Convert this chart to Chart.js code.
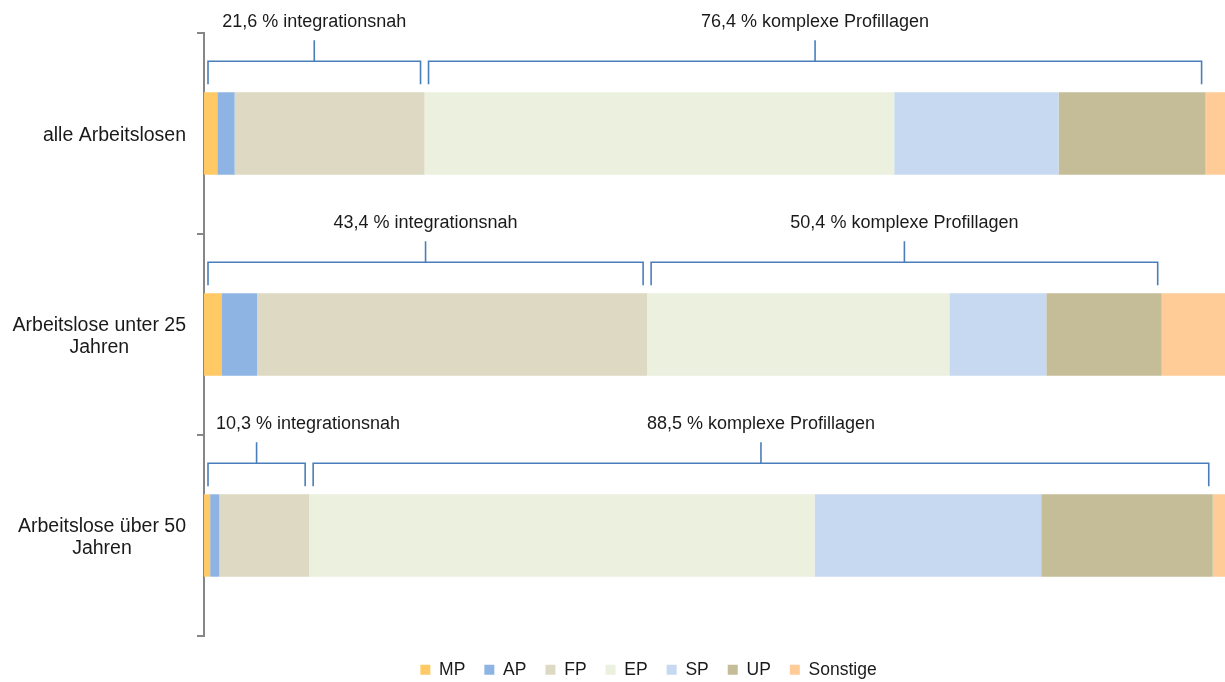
<!DOCTYPE html>
<html>
<head>
<meta charset="utf-8">
<script src="https://cdn.jsdelivr.net/npm/chart.js@4/dist/chart.umd.min.js"></script>
<style>
  html, body { margin: 0; padding: 0; background: #fff; }
  #wrap { width: 1225px; height: 682px; position: relative; }
</style>
</head>
<body>
<div id="wrap"><canvas id="profileChart"></canvas></div>
<script>
// categories (multi-line labels)
const categories = [
  ['alle Arbeitslosen'],
  ['Arbeitslose unter 25', 'Jahren'],
  ['Arbeitslose über 50', 'Jahren']
];

// shares in % per profile, one value per category
const MP = [1.3, 1.7, 0.6];
const AP = [1.7, 3.5, 0.9];
const FP = [18.6, 38.2, 8.8];
const EP = [46.0, 29.6, 49.5];
const SP = [16.1, 9.5, 22.2];
const UP = [14.4, 11.3, 16.8];
const Sonstige = [1.9, 6.2, 1.2];

// bracket annotations
const integrationsnahShare = [21.6, 43.4, 10.3];
const komplexShare = [76.4, 50.4, 88.5];

const seriesNames = ['MP', 'AP', 'FP', 'EP', 'SP', 'UP', 'Sonstige'];
const seriesData = [MP, AP, FP, EP, SP, UP, Sonstige];
const seriesColors = ['#FFCA66', '#8EB4E3', '#DDD9C3', '#EBF1DE', '#C6D9F1', '#C4BD97', '#FFCB97'];

const fmt = v => v.toFixed(1).replace('.', ',');

// groups for the brackets: dataset index ranges
const bracketGroups = [
  { from: 0, to: 2, shares: integrationsnahShare, text: 'integrationsnah' },
  { from: 3, to: 5, shares: komplexShare, text: 'komplexe Profillagen' }
];

const annotatePlugin = {
  id: 'annotate',
  afterLayout(chart) {
    // legend sits a bit right of the canvas centre
    const lg = chart.legend;
    if (!lg) return;
    lg.left += 36; lg.right += 36;
    lg.top += 6; lg.bottom += 6;
  },
  afterDatasetsDraw(chart) {
    const ctx = chart.ctx;
    const xs = chart.scales.x;
    const ys = chart.scales.y;
    const area = chart.chartArea;

    // category labels: block right aligned, lines centred
    ctx.save();
    ctx.font = '19.5px "Liberation Sans", Arial, sans-serif';
    ctx.fillStyle = '#1a1a1a';
    ctx.textAlign = 'center';
    ctx.textBaseline = 'middle';
    const lineH = 21.6;
    categories.forEach((lines, i) => {
      const cy = ys.getPixelForValue(i) + 2;
      const w = Math.max(...lines.map(l => ctx.measureText(l).width));
      const cx = area.left - 18 - w / 2;
      lines.forEach((l, k) => {
        ctx.fillText(l, cx, cy + (k - (lines.length - 1) / 2) * lineH);
      });
    });
    ctx.restore();

    // brackets
    ctx.save();
    ctx.strokeStyle = '#4A7EBB';
    ctx.lineWidth = 1.6;
    ctx.font = '18px "Liberation Sans", Arial, sans-serif';
    ctx.fillStyle = '#1a1a1a';
    ctx.textAlign = 'center';
    ctx.textBaseline = 'alphabetic';
    const meta = chart.getDatasetMeta(0);
    categories.forEach((c, i) => {
      const bar = meta.data[i].getProps(['y', 'height'], true);
      const top = bar.y - bar.height / 2;
      bracketGroups.forEach(g => {
        let start = 0;
        for (let d = 0; d < g.from; d++) start += seriesData[d][i];
        let end = start;
        for (let d = g.from; d <= g.to; d++) end += seriesData[d][i];
        const x1 = xs.getPixelForValue(start) + 4;
        const x2 = xs.getPixelForValue(end) - 4;
        const xm = (x1 + x2) / 2;
        const yh = top - 31;
        ctx.beginPath();
        ctx.moveTo(x1, top - 8);
        ctx.lineTo(x1, yh);
        ctx.lineTo(x2, yh);
        ctx.lineTo(x2, top - 8);
        ctx.moveTo(xm, yh);
        ctx.lineTo(xm, top - 52);
        ctx.stroke();
        const txt = fmt(g.shares[i]) + ' % ' + g.text;
        const tw = ctx.measureText(txt).width;
        const tx = Math.max(xm, area.left + 12 + tw / 2);
        ctx.fillText(txt, tx, top - 65);
      });
    });
    ctx.restore();
  }
};

new Chart(document.getElementById('profileChart').getContext('2d'), {
  type: 'bar',
  data: {
    labels: categories,
    datasets: seriesNames.map((name, k) => ({
      label: name,
      data: seriesData[k],
      backgroundColor: seriesColors[k],
      borderWidth: 0,
      barPercentage: 0.41,
      categoryPercentage: 1
    }))
  },
  options: {
    indexAxis: 'y',
    responsive: true,
    maintainAspectRatio: false,
    animation: false,
    layout: { padding: { top: 33, bottom: -0.5, right: 0, left: 0 } },
    scales: {
      x: { stacked: true, min: 0, max: 100, display: false },
      y: {
        stacked: true,
        afterFit(scale) { scale.width = 204; },
        ticks: { display: false },
        grid: {
          drawOnChartArea: false,
          drawTicks: true,
          tickLength: 7,
          color: '#868686',
          lineWidth: 2
        },
        border: { display: true, color: '#868686', width: 2 }
      }
    },
    plugins: {
      tooltip: { enabled: false },
      legend: {
        position: 'bottom',
        labels: {
          boxWidth: 10,
          boxHeight: 10,
          padding: 19,
          color: '#1a1a1a',
          font: { family: '"Liberation Sans", Arial, sans-serif', size: 17.5 }
        }
      }
    }
  },
  plugins: [annotatePlugin]
});
</script>
</body>
</html>
